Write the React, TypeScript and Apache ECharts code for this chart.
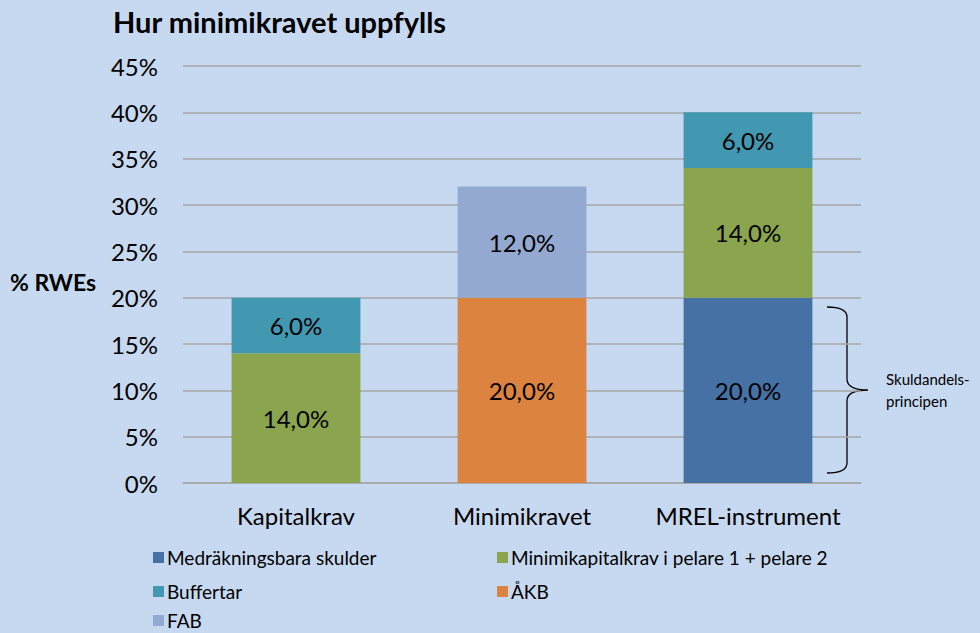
import React, { useEffect, useRef } from "react";
import * as echarts from "echarts";

const categories = ["Kapitalkrav", "Minimikravet", "MREL-instrument"];
const seriesNames = [
  "Medräkningsbara skulder",
  "Minimikapitalkrav i pelare 1 + pelare 2",
  "Buffertar",
  "ÅKB",
  "FAB",
];
const medrakningsbara = [null, null, 20];
const minimikapitalkrav = [14, null, 14];
const buffertar = [6, null, 6];
const akb = [null, 20, null];
const fab = [null, 12, null];
const yTicks = [0, 5, 10, 15, 20, 25, 30, 35, 40, 45];
const colors = ["#4571a5", "#8aa54e", "#4198b0", "#dc8340", "#94a9d1"];

const FONT = "Lato, 'Open Sans', sans-serif";

let braceRegistered = false;
function registerBrace() {
  if (braceRegistered) return;
  const d =
    "M0,0 Q20,0 20,10 L20,72 Q20,83 41,83 Q20,83 20,94 L20,156 Q20,166 0,166";
  echarts.graphic.registerShape("brace", echarts.graphic.extendPath(d, {}));
  braceRegistered = true;
}

export default function App() {
  const ref = useRef<HTMLDivElement>(null);
  useEffect(() => {
    if (!ref.current) return;
    registerBrace();
    const chart = echarts.init(ref.current, null, { renderer: "svg" });
    const values = [medrakningsbara, minimikapitalkrav, buffertar, akb, fab];
    const legendPos = [
      { left: 153, top: 548 },
      { left: 497, top: 548 },
      { left: 153, top: 582 },
      { left: 497, top: 582 },
      { left: 153, top: 611 },
    ];
    chart.setOption({
      animation: false,
      backgroundColor: "#c6d9f0",
      textStyle: { fontFamily: FONT },
      title: {
        text: "Hur minimikravet uppfylls",
        left: 108,
        top: 2,
        textStyle: { fontFamily: FONT, fontSize: 29, fontWeight: "bold", color: "#000" },
      },
      legend: seriesNames.map((n, i) => ({
        data: [n],
        left: legendPos[i].left,
        top: legendPos[i].top,
        itemWidth: 11,
        itemHeight: 11,
        itemGap: 0,
        padding: 0,
        icon: "rect",
        textStyle: { fontFamily: FONT, fontSize: 19, color: "#000", padding: [0, 0, 0, -2] },
        selectedMode: false,
      })),
      grid: { left: 183, right: 119, top: 66, bottom: 150 },
      xAxis: {
        type: "category",
        data: categories,
        axisTick: { show: false },
        axisLine: { lineStyle: { color: "#a6a6a6", width: 1.5 } },
        axisLabel: {
          fontFamily: FONT,
          fontSize: 24,
          color: "#000",
          margin: 20,
          interval: 0,
          hideOverlap: false,
        },
      },
      yAxis: {
        type: "value",
        min: yTicks[0],
        max: yTicks[yTicks.length - 1],
        interval: 5,
        axisLine: { show: false },
        axisTick: { show: false },
        splitLine: { lineStyle: { color: "#a6a6a6", width: 1.5 } },
        axisLabel: {
          fontFamily: FONT,
          fontSize: 24,
          color: "#000",
          margin: 25,
          formatter: (v: number) => v + "%",
        },
      },
      series: seriesNames.map((n, i) => ({
        name: n,
        type: "bar",
        stack: "total",
        barWidth: "57%",
        data: values[i].map((v) => (v === null ? "-" : v)),
        itemStyle: { color: colors[i] },
        label: {
          show: true,
          position: "inside",
          fontFamily: FONT,
          fontSize: 24,
          color: "#000",
          formatter: (p: any) => Number(p.value).toFixed(1).replace(".", ",") + "%",
        },
      })),
      graphic: [
        {
          type: "text",
          left: 10,
          top: 270,
          style: { text: "% RWEs", fontFamily: FONT, fontSize: 23, fontWeight: "bold", fill: "#000" },
        },
        {
          type: "brace",
          x: 827,
          y: 307,
          style: { stroke: "#000", fill: "none", lineWidth: 1.3 },
        },
        {
          type: "text",
          left: 886,
          top: 368,
          style: {
            text: "Skuldandels-\nprincipen",
            fontFamily: FONT,
            fontSize: 15,
            lineHeight: 22,
            fill: "#000",
          },
        },
      ],
    });
    return () => chart.dispose();
  }, []);
  return (
    <div
      ref={ref}
      style={{ width: 980, height: 633, position: "absolute", left: 0, top: 0 }}
    />
  );
}
